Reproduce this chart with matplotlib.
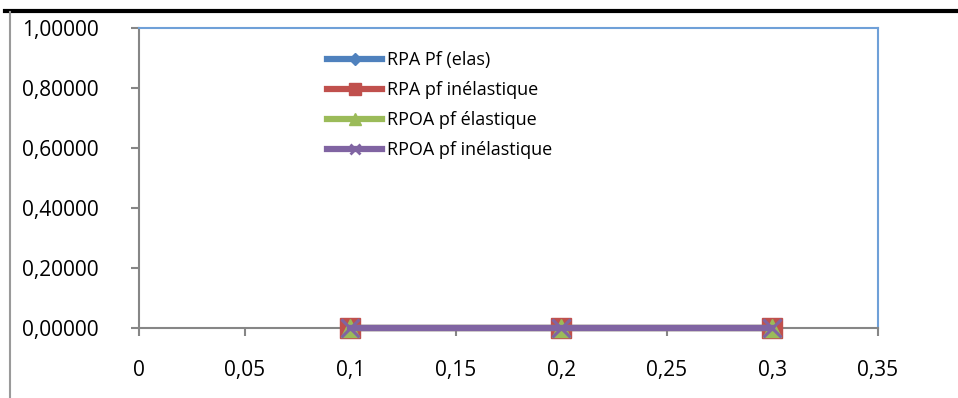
import matplotlib.pyplot as plt
from matplotlib.lines import Line2D
from matplotlib.ticker import FuncFormatter

# data
x = [0.1, 0.2, 0.3]
rpa_pf_elas = [0, 0, 0]
rpa_pf_inelas = [0, 0, 0]
rpoa_pf_elas = [0, 0, 0]
rpoa_pf_inelas = [0, 0, 0]
labels = ['RPA Pf (elas)', 'RPA pf inélastique', 'RPOA pf élastique', 'RPOA pf inélastique']
xticks = [0, 0.05, 0.1, 0.15, 0.2, 0.25, 0.3, 0.35]
yticks = [0, 0.2, 0.4, 0.6, 0.8, 1.0]

colors = ['#4F81BD', '#C0504D', '#9BBB59', '#8064A2']

plt.rcParams['font.family'] = ['Open Sans', 'DejaVu Sans']

fig = plt.figure(figsize=(9.58, 3.98), dpi=100)
ax = fig.add_axes([139 / 958, 1 - 328 / 398, 739 / 958, 300 / 398])

ax.plot(x, rpa_pf_elas, color=colors[0], lw=4.5, marker='D', ms=9, clip_on=False, zorder=3)
ax.plot(x, rpa_pf_inelas, color=colors[1], lw=4.5, marker='s', ms=14.5, clip_on=False, zorder=3)
ax.plot(x, rpoa_pf_elas, color=colors[2], lw=4.5, marker='^', ms=13, clip_on=False, zorder=3)
ax.plot(x, rpoa_pf_inelas, color=colors[3], lw=4.5, marker='x', ms=13, mew=2.2, clip_on=False, zorder=3)

ax.set_xlim(0, 0.35)
ax.set_ylim(0, 1.0)
ax.set_xticks(xticks)
ax.set_yticks(yticks)
ax.xaxis.set_major_formatter(FuncFormatter(lambda v, p: ('%g' % round(v, 2)).replace('.', ',')))
ax.yaxis.set_major_formatter(FuncFormatter(lambda v, p: ('%.5f' % v).replace('.', ',')))
ax.tick_params(axis='both', labelsize=15, direction='out', length=6, color='#868686', width=1.5)
ax.tick_params(axis='x', pad=17)
ax.tick_params(axis='y', pad=23)

for s in ['left', 'bottom']:
    ax.spines[s].set_color('#868686')
    ax.spines[s].set_linewidth(1.5)
for s in ['top', 'right']:
    ax.spines[s].set_color('#6FA0D8')
    ax.spines[s].set_linewidth(1.5)

# legend with smaller markers than the plot
handles = [
    Line2D([0], [0], color=colors[0], lw=4.5, marker='D', ms=6),
    Line2D([0], [0], color=colors[1], lw=4.5, marker='s', ms=9),
    Line2D([0], [0], color=colors[2], lw=4.5, marker='^', ms=8),
    Line2D([0], [0], color=colors[3], lw=4.5, marker='x', ms=7, mew=2),
]
ax.legend(handles, labels, loc='upper left',
          bbox_to_anchor=((327 - 139) / 739, 1 - (51 - 28) / 300),
          frameon=False, fontsize=13, handlelength=3.05, handletextpad=0.3,
          labelspacing=0.67, borderaxespad=0, borderpad=0)

# frame lines of the surrounding document
fig.add_artist(Line2D([5 / 958, 1], [1 - 11 / 398, 1 - 11 / 398], color='black', lw=3))
fig.add_artist(Line2D([10 / 958, 10 / 958], [0, 1 - 12 / 398], color='#9A9A9A', lw=1.5))

fig.savefig('out.png', dpi=100)
